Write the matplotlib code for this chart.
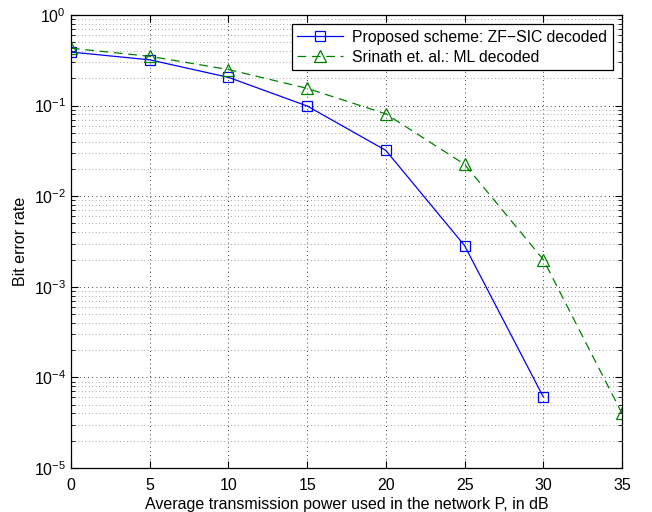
import numpy as np
import matplotlib.pyplot as plt
from matplotlib.ticker import LogLocator, NullFormatter

plt.rcParams["font.family"] = ["Liberation Sans", "DejaVu Sans"]
plt.rcParams["mathtext.fontset"] = "custom"
plt.rcParams["mathtext.rm"] = "Liberation Sans"

# values
power_db_zf = [0, 5, 10, 15, 20, 25, 30]
ber_zf = [0.39, 0.32, 0.205, 0.099, 0.032, 0.00285, 6.1e-5]

power_db_ml = [0, 5, 10, 15, 20, 25, 30, 35]
ber_ml = [0.43, 0.35, 0.25, 0.155, 0.081, 0.0225, 0.002, 4.0e-5]

x_ticks = [0, 5, 10, 15, 20, 25, 30, 35]

fig = plt.figure(figsize=(6.52, 5.12), dpi=100)
ax = fig.add_axes([71 / 652, 1 - 468 / 512, (622 - 71) / 652, (468 - 15) / 512])

ax.semilogy(power_db_zf, ber_zf, "-s", color="#0000ff", lw=0.9,
            markersize=7, markerfacecolor="none", markeredgewidth=0.9,
            label="Proposed scheme: ZF\u2212SIC decoded")
ax.semilogy(power_db_ml, ber_ml, "--^", color="#008000", lw=0.9,
            dashes=(7, 4.5), markersize=8, markerfacecolor="none",
            markeredgewidth=0.9, label="Srinath et. al.: ML decoded")

ax.set_xlim(0, 35)
ax.set_ylim(1e-5, 1)
ax.set_xticks(x_ticks)
ax.yaxis.set_major_locator(LogLocator(base=10, numticks=10))
ax.yaxis.set_minor_locator(LogLocator(base=10, subs=np.arange(2, 10), numticks=10))
ax.yaxis.set_minor_formatter(NullFormatter())

ax.grid(True, which="major", linestyle=(0, (1, 4)), color="black", lw=0.6)
ax.yaxis.grid(True, which="minor", linestyle=(0, (1, 4)), color="#555555", lw=0.5)

ax.tick_params(which="both", direction="in", top=True, right=True, labelsize=11.5)
ax.tick_params(axis="x", pad=7)
ax.tick_params(which="major", length=5)
ax.tick_params(which="minor", length=3)
for s in ax.spines.values():
    s.set_linewidth(0.9)

ax.set_xlabel("Average transmission power used in the network P, in dB", fontsize=11.5, labelpad=3)
ax.set_ylabel("Bit error rate", fontsize=11.5, labelpad=4)

leg = ax.legend(loc="upper right", fontsize=11.3, fancybox=False, framealpha=1,
                edgecolor="black", borderaxespad=0.6, handlelength=2.9,
                borderpad=0.35, labelspacing=0.3, handletextpad=0.6)
leg.get_frame().set_linewidth(0.9)

fig.savefig("out.png", dpi=100)
